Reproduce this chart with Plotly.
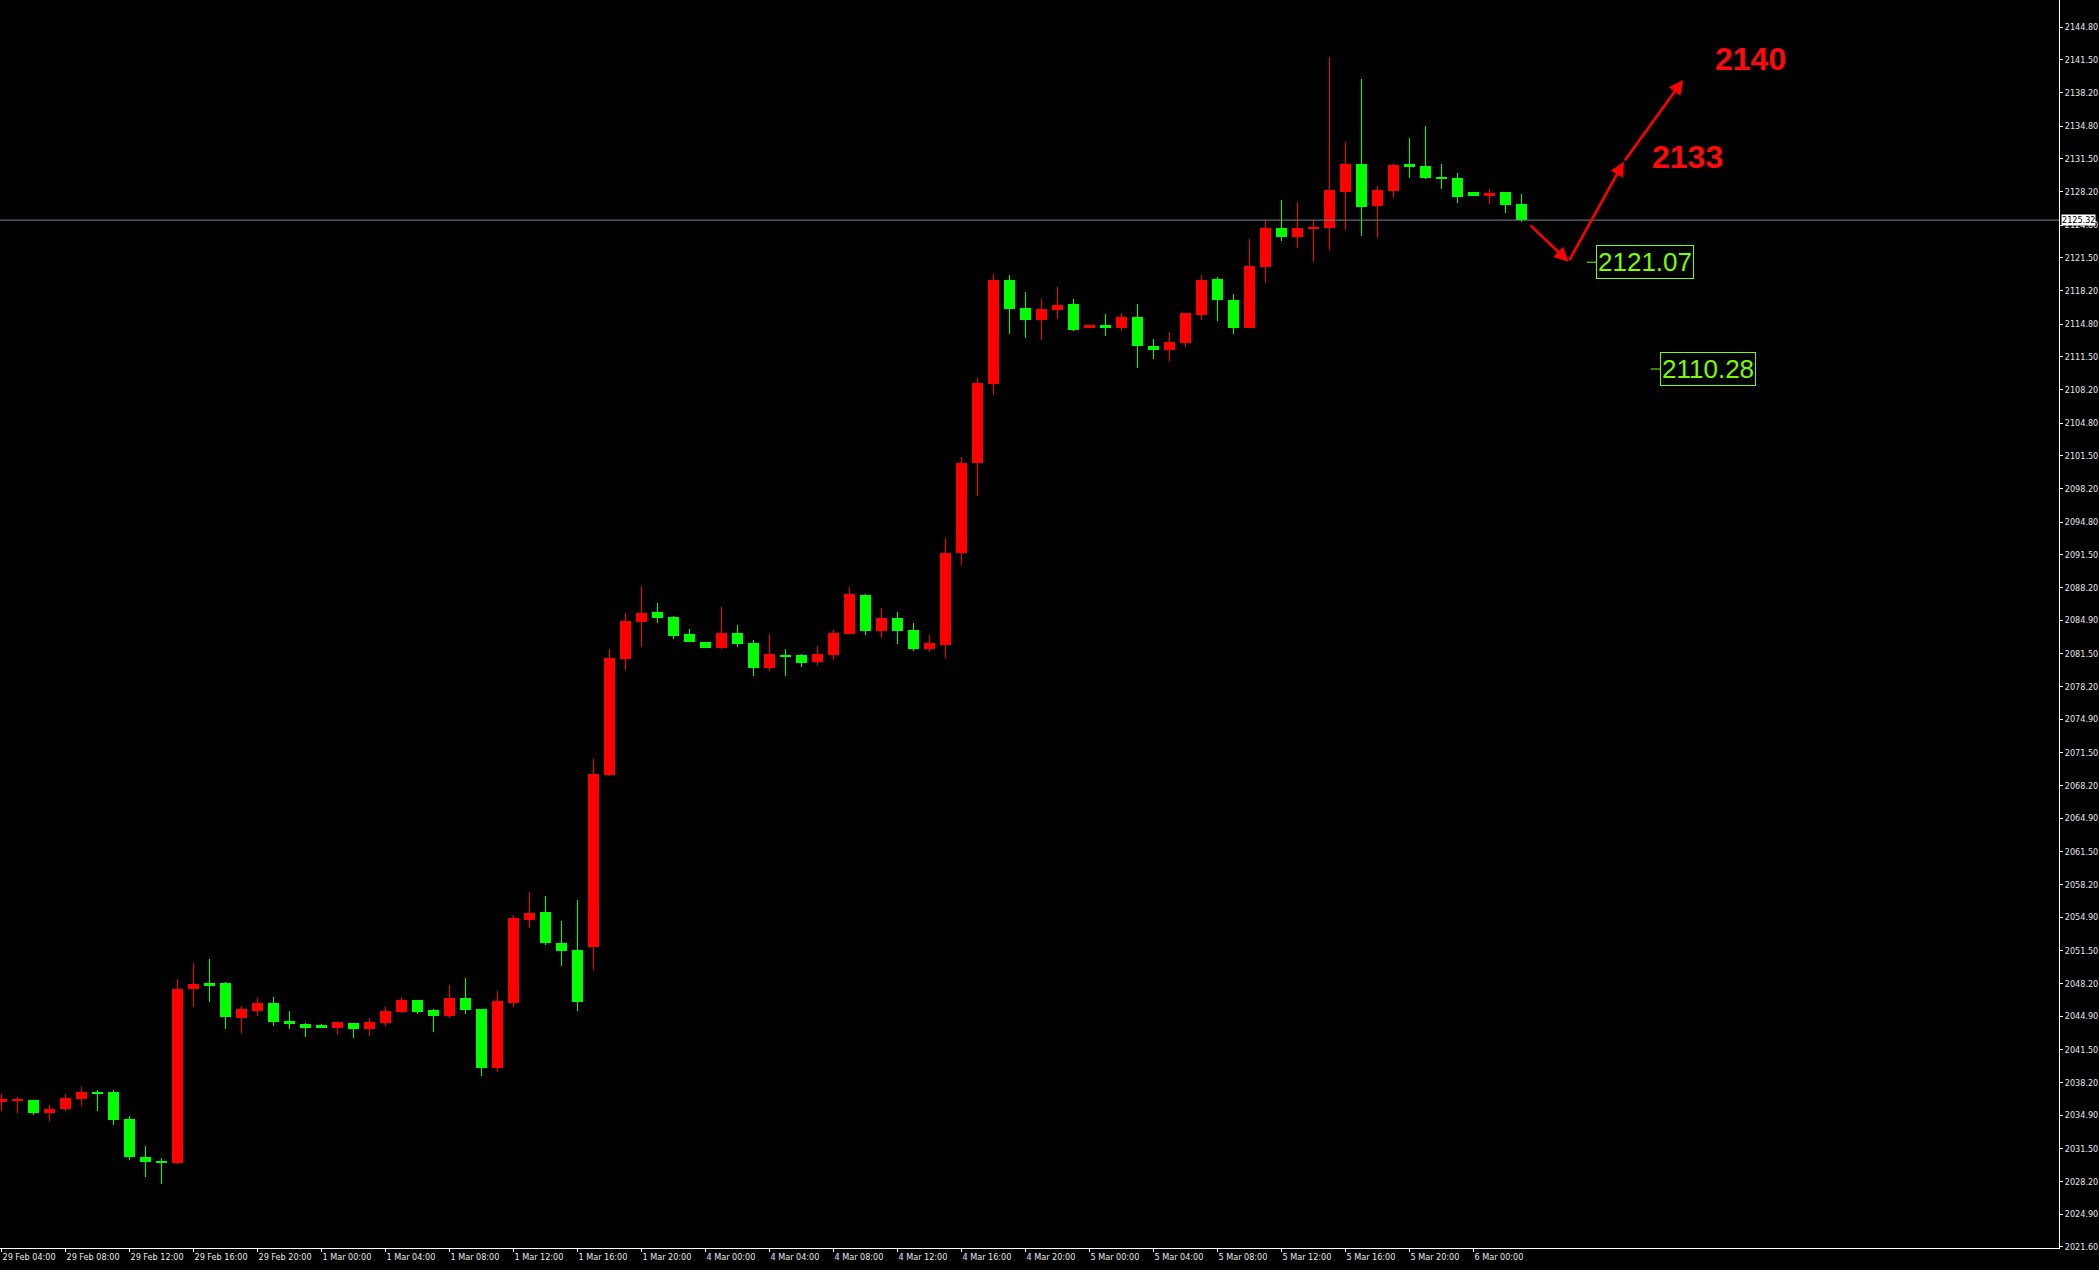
import plotly.graph_objects as go

# ---------------- data (H1 candles, 29 Feb 04:00 .. 6 Mar 03:00) ----------------
opens = [2036.32, 2036.42, 2036.42, 2035.11, 2035.51, 2036.52, 2037.23, 2037.23, 2034.50, 2030.66,
         2030.26, 2030.06, 2047.64, 2048.24, 2048.24, 2044.71, 2045.41, 2046.22, 2044.40, 2044.10,
         2044.00, 2043.70, 2044.20, 2043.60, 2044.20, 2045.31, 2046.53, 2045.51, 2044.91, 2046.73,
         2045.62, 2039.66, 2046.22, 2054.61, 2055.42, 2052.29, 2051.58, 2051.88, 2069.26, 2080.98,
         2084.72, 2085.73, 2085.22, 2083.50, 2082.70, 2082.09, 2083.60, 2082.59, 2080.07, 2081.38,
         2081.38, 2080.67, 2081.38, 2083.50, 2087.44, 2083.81, 2085.12, 2083.91, 2081.99, 2082.39,
         2091.69, 2100.78, 2108.76, 2119.27, 2116.44, 2115.23, 2116.24, 2116.84, 2114.52, 2114.72,
         2114.42, 2115.53, 2112.60, 2112.19, 2112.90, 2115.73, 2119.37, 2117.25, 2114.42, 2120.58,
         2124.52, 2123.61, 2124.43, 2124.53, 2128.16, 2130.99, 2126.75, 2128.26, 2130.99, 2130.79,
         2129.58, 2129.58, 2128.16, 2127.76, 2128.16, 2126.95]
highs = [2037.03, 2036.72, 2036.45, 2035.92, 2037.03, 2037.74, 2037.43, 2037.43, 2034.80, 2031.77,
         2030.56, 2048.65, 2050.26, 2050.67, 2048.34, 2045.92, 2046.73, 2046.83, 2045.41, 2044.20,
         2044.10, 2044.30, 2044.20, 2044.71, 2045.82, 2046.83, 2046.53, 2045.62, 2048.04, 2048.75,
         2045.62, 2047.44, 2055.11, 2057.44, 2057.04, 2054.51, 2056.63, 2070.88, 2081.99, 2085.63,
         2088.35, 2086.64, 2085.32, 2084.01, 2082.70, 2086.23, 2084.41, 2082.90, 2083.50, 2081.99,
         2081.48, 2082.29, 2083.91, 2088.25, 2087.54, 2086.13, 2085.73, 2084.62, 2083.40, 2093.20,
         2101.39, 2109.37, 2119.87, 2119.77, 2118.05, 2117.35, 2118.56, 2117.35, 2114.72, 2115.83,
         2115.93, 2116.84, 2113.31, 2114.01, 2115.93, 2119.77, 2119.57, 2117.85, 2123.41, 2125.33,
         2127.35, 2127.15, 2125.33, 2141.80, 2133.21, 2139.58, 2128.77, 2130.99, 2133.62, 2134.83,
         2130.99, 2130.08, 2128.16, 2128.47, 2128.16, 2127.96]
lows = [2035.31, 2035.11, 2034.91, 2034.30, 2035.31, 2035.82, 2035.31, 2033.90, 2030.36, 2028.64,
        2027.93, 2029.95, 2045.82, 2046.32, 2043.60, 2043.19, 2044.91, 2043.90, 2043.60, 2042.79,
        2043.70, 2042.99, 2042.69, 2042.89, 2043.90, 2045.21, 2045.11, 2043.29, 2044.71, 2045.11,
        2038.85, 2039.25, 2045.82, 2053.80, 2052.08, 2049.96, 2045.41, 2049.56, 2069.16, 2079.87,
        2082.19, 2084.62, 2083.00, 2082.70, 2082.09, 2081.99, 2082.19, 2079.26, 2079.77, 2079.27,
        2080.17, 2080.37, 2080.88, 2083.50, 2083.40, 2083.10, 2082.49, 2081.79, 2081.69, 2081.08,
        2090.48, 2097.45, 2107.65, 2113.81, 2113.41, 2113.21, 2115.33, 2114.11, 2114.52, 2113.61,
        2114.11, 2110.38, 2111.29, 2111.08, 2112.50, 2115.23, 2115.12, 2113.81, 2114.42, 2118.96,
        2123.21, 2122.50, 2121.09, 2122.30, 2124.32, 2123.72, 2123.52, 2127.56, 2129.58, 2129.48,
        2128.47, 2127.05, 2127.76, 2126.95, 2126.04, 2125.14]
closes = [2036.52, 2036.56, 2035.11, 2035.51, 2036.62, 2037.23, 2037.03, 2034.40, 2030.66, 2030.16,
          2030.06, 2047.64, 2048.14, 2048.04, 2044.81, 2045.62, 2046.22, 2044.30, 2044.10, 2043.70,
          2043.70, 2044.30, 2043.60, 2044.30, 2045.41, 2046.53, 2045.31, 2044.91, 2046.73, 2045.51,
          2039.66, 2046.42, 2054.81, 2055.32, 2052.29, 2051.48, 2046.32, 2069.36, 2081.08, 2084.82,
          2085.63, 2085.12, 2083.30, 2082.70, 2082.09, 2083.60, 2082.49, 2080.07, 2081.48, 2081.28,
          2080.57, 2081.48, 2083.60, 2087.54, 2083.81, 2085.12, 2083.81, 2081.99, 2082.59, 2091.69,
          2100.78, 2108.86, 2119.27, 2116.34, 2115.23, 2116.34, 2116.74, 2114.22, 2114.72, 2114.52,
          2115.53, 2112.60, 2112.19, 2113.00, 2115.93, 2119.27, 2117.25, 2114.42, 2120.68, 2124.52,
          2123.61, 2124.52, 2124.63, 2128.36, 2130.99, 2126.65, 2128.36, 2130.89, 2130.69, 2129.58,
          2129.48, 2127.66, 2127.76, 2128.06, 2126.85, 2125.32]

x_tick_labels = ["29 Feb 04:00", "29 Feb 08:00", "29 Feb 12:00", "29 Feb 16:00", "29 Feb 20:00",
                 "1 Mar 00:00", "1 Mar 04:00", "1 Mar 08:00", "1 Mar 12:00", "1 Mar 16:00", "1 Mar 20:00",
                 "4 Mar 00:00", "4 Mar 04:00", "4 Mar 08:00", "4 Mar 12:00", "4 Mar 16:00", "4 Mar 20:00",
                 "5 Mar 00:00", "5 Mar 04:00", "5 Mar 08:00", "5 Mar 12:00", "5 Mar 16:00", "5 Mar 20:00",
                 "6 Mar 00:00"]
y_tick_labels = ["2144.80", "2141.50", "2138.20", "2134.80", "2131.50", "2128.20", "2124.80", "2121.50",
                 "2118.20", "2114.80", "2111.50", "2108.20", "2104.80", "2101.50", "2098.20", "2094.80",
                 "2091.50", "2088.20", "2084.90", "2081.50", "2078.20", "2074.90", "2071.50", "2068.20",
                 "2064.90", "2061.50", "2058.20", "2054.90", "2051.50", "2048.20", "2044.90", "2041.50",
                 "2038.20", "2034.90", "2031.50", "2028.20", "2024.90", "2021.60"]

bid_price = 2125.32
# projected path (bar offsets / prices) and targets
path_bars = [95.47, 97.94, 101.4, 105.1]
path_prices = [2124.93, 2121.12, 2131.22, 2139.48]
target_texts = ["2133", "2140"]
target_bars = [105.4, 109.3]
target_prices = [2131.70, 2141.63]
level_texts = ["2121.07", "2110.28"]
level_prices = [2121.07, 2110.28]
level_bars = [99.67, 103.68]

# ---------------- styles ----------------
UP = "#FF0000"
DOWN = "#00FF00"
LEVEL = "#7CFC00"
AXIS_FONT = "Liberation Sans Narrow, DejaVu Sans Condensed, Arial Narrow, sans-serif"

fig = go.Figure()

n = len(opens)
idx = list(range(n))
for color, cond in ((UP, lambda o, c: c > o), (DOWN, lambda o, c: c <= o)):
    wx, wy = [], []
    bx, bbase, bh = [], [], []
    for i in idx:
        o, h, l, c = opens[i], highs[i], lows[i], closes[i]
        if not cond(o, c):
            continue
        wx += [i, i, None]
        wy += [l, h, None]
        lo = min(o, c)
        hgt = max(abs(c - o), 0.1)
        bx.append(i)
        bbase.append(lo)
        bh.append(hgt)
    fig.add_trace(go.Scatter(x=wx, y=wy, mode="lines", line=dict(color=color, width=1),
                             hoverinfo="skip", showlegend=False))
    fig.add_trace(go.Bar(x=bx, y=bh, base=bbase, width=0.6875,
                         marker=dict(color=color, line=dict(width=0)),
                         hoverinfo="skip", showlegend=False))

# bid line
fig.add_shape(type="line", xref="paper", x0=0, x1=1, yref="y", y0=bid_price, y1=bid_price,
              line=dict(color="#778899", width=1))
fig.add_annotation(xref="paper", x=1, xanchor="left", xshift=2, yref="y", y=bid_price,
                   yanchor="middle", text=f"{bid_price:.2f}", showarrow=False,
                   bgcolor="white", font=dict(family=AXIS_FONT, size=9, color="black"),
                   borderpad=0)

# arrows
for k in range(len(path_bars) - 1):
    fig.add_annotation(x=path_bars[k + 1], y=path_prices[k + 1], ax=path_bars[k], ay=path_prices[k],
                       xref="x", yref="y", axref="x", ayref="y", text="", showarrow=True,
                       arrowhead=2, arrowsize=1.1, arrowwidth=2.6, arrowcolor=UP, standoff=0,
                       startstandoff=0)

# target texts
for t, xb, pr in zip(target_texts, target_bars, target_prices):
    fig.add_annotation(x=xb, y=pr, xref="x", yref="y", text=f"<b>{t}</b>", showarrow=False,
                       xanchor="center", yanchor="middle",
                       font=dict(family="Liberation Sans, Arial, sans-serif", size=32, color="#FF0A0A"))

# level boxes
for t, xb, pr in zip(level_texts, level_bars, level_prices):
    fig.add_shape(type="line", xref="x", yref="y", x0=xb - 0.6, x1=xb, y0=pr, y1=pr,
                  line=dict(color=LEVEL, width=1))
    fig.add_annotation(x=xb, y=pr, xref="x", yref="y", text=t, showarrow=False,
                       xanchor="left", yanchor="middle", bordercolor=LEVEL, borderwidth=1,
                       borderpad=1,
                       font=dict(family="Liberation Sans, Arial, sans-serif", size=26, color=LEVEL))

x0 = -1.5 / 16
x1 = x0 + 2059 / 16
fig.update_layout(
    width=2099, height=1270, autosize=False,
    margin=dict(l=0, r=40, t=0, b=22, pad=0),
    paper_bgcolor="#000000", plot_bgcolor="#000000",
    barmode="overlay", bargap=0, showlegend=False, hovermode=False,
    xaxis=dict(range=[x0, x1], showgrid=False, zeroline=False, showline=True, linecolor="white",
               linewidth=1, ticks="outside", ticklen=3, tickcolor="white", automargin=False,
               tickangle=0,
               tickvals=[4 * k for k in range(len(x_tick_labels))], ticktext=x_tick_labels,
               ticklabelposition="outside right",
               tickfont=dict(family=AXIS_FONT, size=9, color="#E6E6E6")),
    yaxis=dict(range=[2021.47, 2147.56], side="right", showgrid=False, zeroline=False,
               showline=True, linecolor="white", linewidth=1, ticks="outside", ticklen=3,
               tickcolor="white", automargin=False,
               tickvals=[float(v) for v in y_tick_labels], ticktext=y_tick_labels,
               tickfont=dict(family=AXIS_FONT, size=9, color="#E6E6E6")),
)

fig.write_html("out.html", config={"displayModeBar": False},
               post_script="document.body.style.margin='0';")
